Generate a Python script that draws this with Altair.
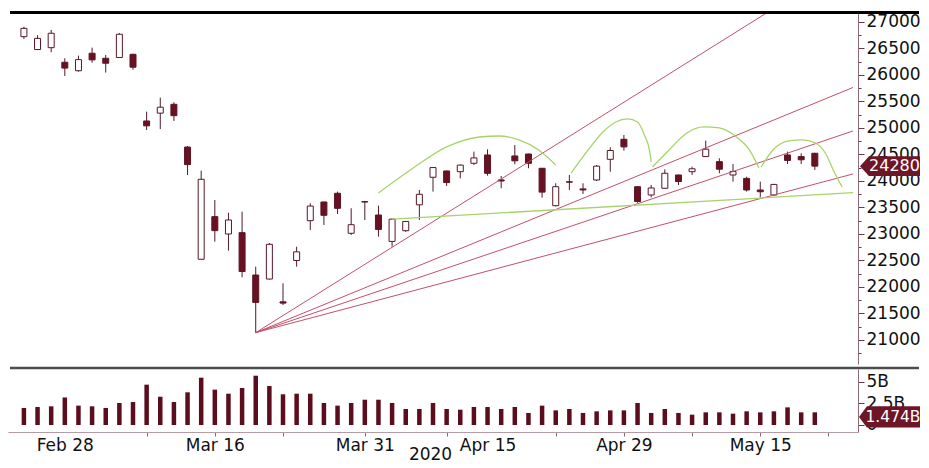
import altair as alt
import pandas as pd

# ---------------- data ----------------
dates = ["Feb 25", "Feb 26", "Feb 27", "Feb 28", "Mar 2", "Mar 3", "Mar 4", "Mar 5", "Mar 6",
         "Mar 9", "Mar 10", "Mar 11", "Mar 12", "Mar 13", "Mar 16", "Mar 17", "Mar 18", "Mar 19",
         "Mar 20", "Mar 23", "Mar 24", "Mar 25", "Mar 26", "Mar 27", "Mar 30", "Mar 31", "Apr 1",
         "Apr 2", "Apr 3", "Apr 6", "Apr 7", "Apr 8", "Apr 9", "Apr 14", "Apr 15", "Apr 16",
         "Apr 17", "Apr 20", "Apr 21", "Apr 22", "Apr 23", "Apr 24", "Apr 27", "Apr 28", "Apr 29",
         "May 4", "May 5", "May 6", "May 7", "May 8", "May 11", "May 12", "May 13", "May 14",
         "May 15", "May 18", "May 19", "May 20", "May 21"]
opens = [26723, 26480, 26515, 26240, 26080, 26410, 26315, 26330, 26390,
         25132, 25280, 25447, 24640, 22523, 23327, 23000, 23025, 22226,
         22150, 21720, 22500, 23251, 23604, 23768, 23013, 23610, 23358,
         22860, 23062, 23550, 24070, 24189, 24175, 24334, 24491, 24020,
         24472, 24509, 24240, 23534, 23985, 23850, 24019, 24409, 24787,
         23892, 23736, 23862, 24113, 24175, 24460, 24365, 24113, 24049,
         23830, 23736, 24491, 24460, 24523]
highs = [26910, 26750, 26850, 26315, 26364, 26515, 26377, 26790, 26400,
         25308, 25572, 25485, 24660, 24194, 23642, 23400, 23420, 22383,
         22830, 22070, 22760, 23580, 23610, 23800, 23485, 23625, 23534,
         23290, 23245, 23830, 24260, 24195, 24310, 24553, 24597, 24094,
         24679, 24515, 24245, 23957, 24113, 23957, 24300, 24636, 24868,
         23900, 23925, 24220, 24120, 24270, 24760, 24428, 24320, 24080,
         23987, 23945, 24553, 24523, 24530]
lows = [26680, 26470, 26430, 25980, 26062, 26232, 26045, 26320, 26100,
        24962, 24980, 25132, 24113, 22520, 22855, 22685, 22183, 21139,
        22140, 21660, 22383, 23075, 23170, 23377, 22981, 23264, 22950,
        22760, 23040, 23264, 23800, 23906, 24050, 24302, 24100, 23862,
        24315, 24240, 23685, 23520, 23830, 23755, 24000, 24175, 24572,
        23590, 23692, 23850, 23925, 24113, 24455, 24145, 23987, 23800,
        23692, 23720, 24320, 24320, 24208]
closes = [26880, 26690, 26787, 26130, 26290, 26285, 26222, 26768, 26147,
          25040, 25392, 25232, 24309, 24032, 23063, 23264, 22292, 21709,
          22805, 21696, 22663, 23527, 23352, 23484, 23175, 23603, 23086,
          23280, 23236, 23749, 24253, 23970, 24300, 24435, 24145, 24000,
          24380, 24334, 23790, 23892, 23977, 23831, 24280, 24575, 24643,
          23613, 23868, 24145, 23990, 24230, 24600, 24222, 24180, 23830,
          23797, 23935, 24388, 24400, 24280]
volumes = [1.98, 2.09, 2.17, 3.20, 2.25, 2.17, 1.98, 2.56, 2.67,
           4.69, 3.29, 2.67, 3.80, 5.50, 4.11, 3.64, 4.30, 5.73,
           4.53, 3.57, 3.64, 3.64, 2.56, 2.25, 2.56, 2.94, 2.94,
           2.56, 1.86, 1.86, 2.56, 1.86, 1.78, 2.09, 2.09, 1.86,
           2.09, 1.40, 2.25, 1.70, 1.86, 1.40, 1.59, 1.70, 1.70,
           2.56, 1.40, 1.86, 1.40, 1.20, 1.47, 1.47, 1.32, 1.59,
           1.47, 1.59, 2.05, 1.47, 1.474]

label_dates = ["Feb 28", "Mar 16", "Mar 31", "Apr 15", "Apr 29", "May 15"]
tick_pos = [9, 14, 19, 25, 31, 39, 44, 49, 54, 59]
year_label = "2020"

# fan lines from the March low
fan_origin = (17, 21139)
fan_end_i = [54.5, 60.8, 60.8, 60.8]
fan_end_v = [27176, 25764, 24943, 24132]

# green support line
green_i = [27, 60.8]
green_v = [23280, 23779]

# green arcs
arc1_i = [26.0, 28.55, 31.0, 33.4, 34.86, 36.3, 37.75, 39.0]
arc1_v = [23774, 24245, 24642, 24830, 24849, 24774, 24585, 24302]
arc2_i = [40.14, 41.38, 42.46, 43.4, 44.28, 45.0, 45.5, 45.87, 46.0]
arc2_v = [24151, 24585, 24925, 25113, 25170, 25113, 24868, 24585, 24358]
arc3_i = [46.09, 47.17, 48.62, 49.86, 51.0, 52.25, 53.2, 53.9]
arc3_v = [24264, 24547, 24906, 25019, 25000, 24830, 24585, 24245]
arc4_i = [54.06, 54.93, 56.09, 57.1, 58.04, 58.77, 59.35, 60.0]
arc4_v = [24264, 24585, 24755, 24774, 24717, 24528, 24208, 23887]

last_price = 24280
last_volume = 1.474

# ---------------- styles ----------------
FONT = "DejaVu Sans"
DARK = "#6b1021"
WICK = "#4e1c2a"
BADGE = "#6e1526"
FAN = "#c4506a"
GREEN = "#a6d468"
AXIS = "#8c6a78"
TICK = "#6b3a4a"
TXT = "#111111"

W = 850
X_DOM = [-0.8, 60.8]

N = len(dates)
df = pd.DataFrame({"i": list(range(N)), "date": dates, "open": opens, "high": highs,
                   "low": lows, "close": closes, "vol": volumes})

xs = alt.Scale(domain=X_DOM, nice=False, zero=False)
ys = alt.Scale(domain=[20547, 27207], nice=False, zero=False)

X = alt.X("i:Q", scale=xs, axis=None)

fan_rows = []
for k, (ei, ev) in enumerate(zip(fan_end_i, fan_end_v)):
    fan_rows.append({"line": k, "i": fan_origin[0], "v": fan_origin[1]})
    fan_rows.append({"line": k, "i": ei, "v": ev})
fan_df = pd.DataFrame(fan_rows)

green_df = pd.DataFrame({"i": green_i, "v": green_v})

arc_rows = []
for k, (ai, av) in enumerate([(arc1_i, arc1_v), (arc2_i, arc2_v), (arc3_i, arc3_v), (arc4_i, arc4_v)]):
    for a, b in zip(ai, av):
        arc_rows.append({"arc": k, "i": a, "v": b})
arc_df = pd.DataFrame(arc_rows)

main_vals = list(range(20750, 27001, 250))
y_axis = alt.Axis(orient="right", values=main_vals,
                  labelExpr="datum.value % 500 == 0 ? '' + datum.value : ''",
                  tickSize={"condition": {"test": "datum.value % 500 == 0", "value": 6}, "value": 3},
                  labelPadding=2, labelFontSize=17, labelFont=FONT, labelColor=TXT,
                  domainColor=AXIS, tickColor=TICK, labelOverlap=False, grid=False,
                  title=None)


def YM(field):
    return alt.Y(field, scale=ys, axis=y_axis, title=None)


border = alt.Chart(pd.DataFrame({"a": [0]})).mark_rule(color="black", strokeWidth=3).encode(
    x=alt.value(2), x2=alt.value(911), y=alt.value(1.5))

fan = alt.Chart(fan_df).mark_line(color=FAN, strokeWidth=1, clip=True).encode(
    x=X, y=YM("v:Q"), detail="line:N")

green = alt.Chart(green_df).mark_line(color=GREEN, strokeWidth=1.3, clip=True).encode(
    x=X, y=YM("v:Q"))

arcs = alt.Chart(arc_df).mark_line(color=GREEN, strokeWidth=1.3, interpolate="monotone").encode(
    x=X, y=YM("v:Q"), detail="arc:N")

wicks = alt.Chart(df).mark_rule(color=WICK, strokeWidth=1).encode(
    x=X, y=YM("low:Q"), y2="high:Q")

bodies = alt.Chart(df).mark_bar(width=6, stroke="#5a1626", strokeWidth=1).encode(
    x=X, y=YM("open:Q"), y2="close:Q",
    fill=alt.condition("datum.close > datum.open", alt.value("white"), alt.value(DARK)))

badge_df = pd.DataFrame({"v": [last_price], "t": [str(last_price)]})
badge_shape = alt.Chart(badge_df).mark_point(
    shape="M-1,0L-0.7,-0.33L1,-0.33L1,0.33L-0.7,0.33Z", filled=True, opacity=1,
    color=BADGE, size=3600, strokeWidth=0).encode(
    x=alt.value(882), y=YM("v:Q"))
badge_text = alt.Chart(badge_df).mark_text(color="white", fontSize=16, font=FONT,
                                           align="center", baseline="middle").encode(
    x=alt.value(886.5), y=YM("v:Q"), text="t:N")

main = alt.layer(wicks, bodies, fan, green, arcs, border, badge_shape, badge_text).properties(
    width=W, height=353)

# ---------------- volume panel ----------------
vs = alt.Scale(domain=[-0.814, 6.51], nice=False, zero=False)

label_idx = [dates.index(d) for d in label_dates]
label_expr = " : ".join(f"datum.value == {i} ? '{d}'" for i, d in zip(label_idx, label_dates)) + " : ''"
x_vals = sorted(set(label_idx) | set(tick_pos))
no_tick = [i for i in label_idx if i not in tick_pos]

x_axis = alt.Axis(orient="bottom", values=x_vals, labelExpr=label_expr, labelOverlap=False,
                  labelFontSize=17, labelFont=FONT, labelColor=TXT, labelPadding=1,
                  tickSize=4, tickColor=AXIS, domainColor="#b89aa4", grid=False,
                  tickOpacity={"condition": {"test": f"indexof({no_tick}, datum.value) >= 0", "value": 0},
                               "value": 1},
                  title=year_label, titleFont=FONT, titleFontSize=17, titleFontWeight="normal",
                  titleColor=TXT, titleX=422, titleY=14, titleBaseline="top", titleAlign="center")

v_axis = alt.Axis(orient="right", values=[0, 2.5, 5],
                  labelExpr="datum.value == 0 ? '0' : datum.value + 'B'",
                  tickSize=6, labelPadding=2, labelFontSize=17, labelFont=FONT,
                  labelColor=TXT, domainColor=AXIS, tickColor=TICK,
                  labelOverlap=False, grid=False, title=None)


def YV(field):
    return alt.Y(field, scale=vs, axis=v_axis, title=None)


vbars = alt.Chart(df).mark_bar(width=4.5, color="#5c0d1d").encode(
    x=alt.X("i:Q", scale=xs, axis=x_axis),
    y=YV("vol:Q"), y2=alt.datum(0))

sep = alt.Chart(pd.DataFrame({"a": [0]})).mark_rule(color="#4d4d4d", strokeWidth=2.5).encode(
    x=alt.value(2), x2=alt.value(911), y=alt.value(-1))

vb_df = pd.DataFrame({"v": [last_volume], "t": [f"{last_volume}B"]})
vbadge_shape = alt.Chart(vb_df).mark_point(
    shape="M-1,0.15L-0.74,-0.2L1,-0.2L1,0.5L-0.74,0.5Z", filled=True, opacity=1,
    color=BADGE, size=3721, strokeWidth=0).encode(
    x=alt.value(881.5), y=YV("v:Q"))
vbadge_text = alt.Chart(vb_df).mark_text(color="white", fontSize=15.5, font=FONT,
                                         align="center", baseline="middle", dy=5).encode(
    x=alt.value(885), y=YV("v:Q"), text="t:N")

volume = alt.layer(vbars, sep, vbadge_shape, vbadge_text).properties(width=W, height=63)

chart = alt.vconcat(main, volume, spacing=2).properties(
    padding={"left": 0, "top": 3, "right": 0, "bottom": 0}
).configure_view(stroke=None)

chart.save("out.html", embed_options={"renderer": "svg", "actions": False})
